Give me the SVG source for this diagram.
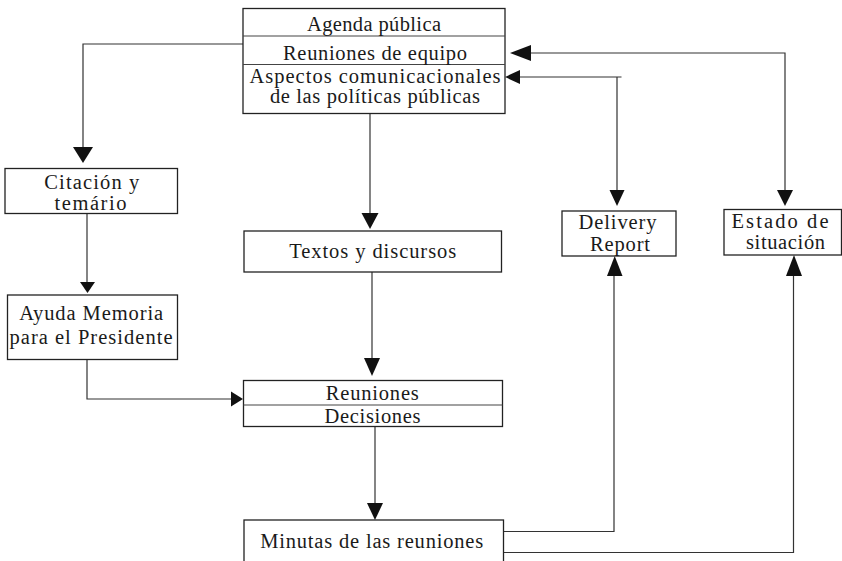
<svg xmlns="http://www.w3.org/2000/svg" width="842" height="561" viewBox="0 0 842 561">
<style>
.box{fill:#fff;stroke:#222;stroke-width:1.3}
.div{stroke:#444;stroke-width:1.2;fill:none}
.ln{fill:none;stroke:#333;stroke-width:1.2}
.ah{fill:#111;stroke:none}
text{font-family:"Liberation Serif","Times New Roman",serif;font-size:20.5px;fill:#1a1a1a;text-anchor:middle}
</style>
<rect width="842" height="561" fill="#fff"/>
<g id="connectors">
<path class="ln" d="M243,44 H83 V148"/>
<polygon class="ah" points="73,147 93,147 83,163"/>
<path class="ln" d="M370,113.5 V214"/>
<polygon class="ah" points="361.5,213 378.5,213 370,229"/>
<path class="ln" d="M87,213.5 V283"/>
<polygon class="ah" points="80,282 95,282 87.5,293"/>
<path class="ln" d="M87,359.5 V399 H232"/>
<polygon class="ah" points="231,391.5 231,406.5 243,399"/>
<path class="ln" d="M372,272 V359"/>
<polygon class="ah" points="364,358 380,358 372,376"/>
<path class="ln" d="M375,426.5 V504"/>
<polygon class="ah" points="367,503 383,503 375,520"/>
<path class="ln" d="M503.5,531.5 H614 V275"/>
<polygon class="ah" points="607,276 622.5,276 614.7,256"/>
<path class="ln" d="M503.5,552.5 H793.5 V275"/>
<polygon class="ah" points="786,276 802,276 794,255"/>
<path class="ln" d="M530,53 H785 V191"/>
<polygon class="ah" points="510,53 531,45 531,61"/>
<polygon class="ah" points="777,190 793,190 785,206"/>
<path class="ln" d="M519,77 H621.5 M617,77 V191"/>
<polygon class="ah" points="505,77 520,70 520,84"/>
<polygon class="ah" points="609.5,190 624.5,190 617,206"/>
</g>
<g id="top-box">
<rect class="box" x="243" y="8.5" width="262" height="105"/>
<path class="div" d="M243,36 H505 M243,64.5 H505"/>
<text x="374" y="31" textLength="134" lengthAdjust="spacing">Agenda pública</text>
<text x="375" y="59.5" textLength="184" lengthAdjust="spacing">Reuniones de equipo</text>
<text x="375" y="83" textLength="251" lengthAdjust="spacing">Aspectos comunicacionales</text>
<text x="375" y="103" textLength="210" lengthAdjust="spacing">de las políticas públicas</text>
</g>
<g id="citacion">
<rect class="box" x="5" y="168.5" width="172.5" height="45"/>
<text x="91.8" y="189" textLength="95" lengthAdjust="spacing">Citación y</text>
<text x="90.5" y="209.5" textLength="72" lengthAdjust="spacing">temário</text>
</g>
<g id="textos">
<rect class="box" x="244" y="231" width="257.5" height="41"/>
<text x="372.7" y="258" textLength="167" lengthAdjust="spacing">Textos y discursos</text>
</g>
<g id="ayuda">
<rect class="box" x="7.5" y="295" width="170" height="64.5"/>
<text x="91.2" y="320" textLength="144" lengthAdjust="spacing">Ayuda Memoria</text>
<text x="91" y="344" textLength="163" lengthAdjust="spacing">para el Presidente</text>
</g>
<g id="reuniones">
<rect class="box" x="243.5" y="380.5" width="259" height="46"/>
<path class="div" d="M243.5,405 H502.5"/>
<text x="372.3" y="400" textLength="93" lengthAdjust="spacing">Reuniones</text>
<text x="372.5" y="422.5" textLength="96" lengthAdjust="spacing">Decisiones</text>
</g>
<g id="minutas">
<rect class="box" x="244" y="520" width="259.5" height="50"/>
<text x="371.7" y="547.5" textLength="223" lengthAdjust="spacing">Minutas de las reuniones</text>
</g>
<g id="delivery">
<rect class="box" x="562" y="211" width="114" height="45"/>
<text x="617.5" y="229.3" textLength="78" lengthAdjust="spacing">Delivery</text>
<text x="620" y="250.7" textLength="60" lengthAdjust="spacing">Report</text>
</g>
<g id="estado">
<rect class="box" x="724" y="209.5" width="117.5" height="45.5"/>
<text x="780" y="227.7" textLength="97" lengthAdjust="spacing">Estado de</text>
<text x="785.5" y="249.3" textLength="79" lengthAdjust="spacing">situación</text>
</g>
</svg>
